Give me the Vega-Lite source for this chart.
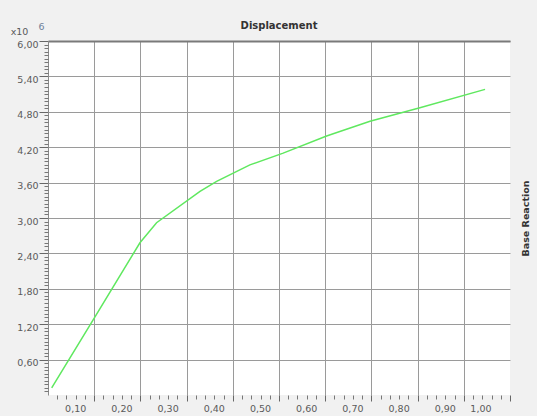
{
  "$schema": "https://vega.github.io/schema/vega-lite/v6.json",
  "width": 462,
  "height": 354,
  "autosize": "none",
  "padding": {"left": 48, "top": 41, "right": 27, "bottom": 21},
  "background": "#f1f1f1",
  "config": {
    "view": {"fill": "white", "stroke": null},
    "font": "DejaVu Sans"
  },
  "title": {
    "text": "Displacement",
    "anchor": "middle",
    "offset": -10,
    "fontSize": 10,
    "fontWeight": "bold",
    "color": "#333333"
  },
  "data": {
    "values": [
      {"disp": 0.008, "reaction": 0.12},
      {"disp": 0.102, "reaction": 1.33},
      {"disp": 0.199, "reaction": 2.58},
      {"disp": 0.235, "reaction": 2.92},
      {"disp": 0.329, "reaction": 3.45},
      {"disp": 0.365, "reaction": 3.62},
      {"disp": 0.437, "reaction": 3.90},
      {"disp": 0.509, "reaction": 4.10},
      {"disp": 0.603, "reaction": 4.39},
      {"disp": 0.697, "reaction": 4.64},
      {"disp": 0.805, "reaction": 4.87},
      {"disp": 0.946, "reaction": 5.18}
    ]
  },
  "layer": [
    {
      "mark": {"type": "line", "color": "#5fe85f", "strokeWidth": 1.5},
      "encoding": {
        "x": {
          "field": "disp", "type": "quantitative",
          "scale": {"domain": [0, 1], "nice": false, "zero": false},
          "axis": {
            "orient": "bottom",
            "values": [0.1, 0.2, 0.3, 0.4, 0.5, 0.6, 0.7, 0.8, 0.9, 1.0],
            "labelExpr": "replace(format(datum.value, '.2f'), '.', ',')",
            "labelOffset": -19,
            "labelFontSize": 9.5,
            "labelColor": "#5a5a5a",
            "labelPadding": 2,
            "tickSize": 6,
            "tickColor": "#666666",
            "domain": false,
            "grid": true,
            "gridColor": {"condition": {"test": "datum.value >= 1", "value": "transparent"}, "value": "#9a9a9a"},
            "gridWidth": 1,
            "gridOpacity": 1,
            "title": null
          }
        },
        "y": {
          "field": "reaction", "type": "quantitative",
          "scale": {"domain": [0, 6], "nice": false, "zero": false},
          "axis": {
            "orient": "left",
            "values": [0.6, 1.2, 1.8, 2.4, 3.0, 3.6, 4.2, 4.8, 5.4, 6.0],
            "labelExpr": "replace(format(datum.value, '.2f'), '.', ',')",
            "labelOffset": 3,
            "labelFontSize": 9.5,
            "labelColor": "#5a5a5a",
            "labelPadding": 1,
            "tickSize": 9,
            "tickColor": "#666666",
            "domain": true,
            "domainColor": "#8a8a8a",
            "grid": true,
            "gridColor": "#9a9a9a",
            "gridWidth": 1,
            "gridOpacity": 1,
            "title": "x10",
            "titleAngle": 0,
            "titleX": -29,
            "titleY": -10,
            "titleAlign": "center",
            "titleBaseline": "middle",
            "titleFontSize": 9.5,
            "titleFontWeight": "normal",
            "titleColor": "#5a5a5a"
          }
        }
      }
    },
    {
      "mark": {"type": "line", "opacity": 0},
      "encoding": {
        "x": {
          "field": "disp", "type": "quantitative",
          "scale": {"domain": [0, 1], "nice": false, "zero": false},
          "axis": {
            "orient": "bottom",
            "values": [0.02, 0.04, 0.06, 0.08, 0.12, 0.14, 0.16, 0.18, 0.22, 0.24, 0.26, 0.28, 0.32, 0.34, 0.36, 0.38, 0.42, 0.44, 0.46, 0.48, 0.52, 0.54, 0.56, 0.58, 0.62, 0.64, 0.66, 0.68, 0.72, 0.74, 0.76, 0.78, 0.82, 0.84, 0.86, 0.88, 0.92, 0.94, 0.96, 0.98],
            "labels": false,
            "tickSize": 4,
            "tickColor": "#777777",
            "domain": false,
            "grid": false,
            "title": null
          }
        },
        "y": {
          "field": "reaction", "type": "quantitative",
          "scale": {"domain": [0, 6], "nice": false, "zero": false},
          "axis": {
            "orient": "left",
            "values": [0.06, 0.12, 0.18, 0.24, 0.3, 0.36, 0.42, 0.48, 0.54, 0.66, 0.72, 0.78, 0.84, 0.9, 0.96, 1.02, 1.08, 1.14, 1.26, 1.32, 1.38, 1.44, 1.5, 1.56, 1.62, 1.68, 1.74, 1.86, 1.92, 1.98, 2.04, 2.1, 2.16, 2.22, 2.28, 2.34, 2.46, 2.52, 2.58, 2.64, 2.7, 2.76, 2.82, 2.88, 2.94, 3.06, 3.12, 3.18, 3.24, 3.3, 3.36, 3.42, 3.48, 3.54, 3.66, 3.72, 3.78, 3.84, 3.9, 3.96, 4.02, 4.08, 4.14, 4.26, 4.32, 4.38, 4.44, 4.5, 4.56, 4.62, 4.68, 4.74, 4.86, 4.92, 4.98, 5.04, 5.1, 5.16, 5.22, 5.28, 5.34, 5.46, 5.52, 5.58, 5.64, 5.7, 5.76, 5.82, 5.88, 5.94],
            "labels": false,
            "tickSize": 4,
            "tickColor": "#777777",
            "domain": false,
            "grid": false,
            "title": "6",
            "titleAngle": 0,
            "titleX": -7,
            "titleY": -15,
            "titleAlign": "center",
            "titleBaseline": "middle",
            "titleFontSize": 9.5,
            "titleFontWeight": "normal",
            "titleColor": "#6f7f99"
          }
        }
      }
    },
    {
      "mark": {"type": "line", "opacity": 0},
      "encoding": {
        "x": {
          "field": "disp", "type": "quantitative",
          "scale": {"domain": [0, 1], "nice": false, "zero": false},
          "axis": {
            "orient": "top",
            "labels": false,
            "ticks": false,
            "grid": false,
            "domain": true,
            "domainColor": "#7a7a7a",
            "domainWidth": 2,
            "title": null
          }
        },
        "y": {
          "field": "reaction", "type": "quantitative",
          "scale": {"domain": [0, 6], "nice": false, "zero": false},
          "axis": {
            "orient": "right",
            "labels": false,
            "ticks": false,
            "grid": false,
            "domain": false,
            "title": "Base Reaction",
            "titleAngle": -90,
            "titleX": 15,
            "titleY": 177,
            "titleAlign": "center",
            "titleBaseline": "middle",
            "titleFontSize": 9.5,
            "titleFontWeight": "bold",
            "titleColor": "#333333"
          }
        }
      }
    }
  ],
  "resolve": {"axis": {"x": "independent", "y": "independent"}}
}
